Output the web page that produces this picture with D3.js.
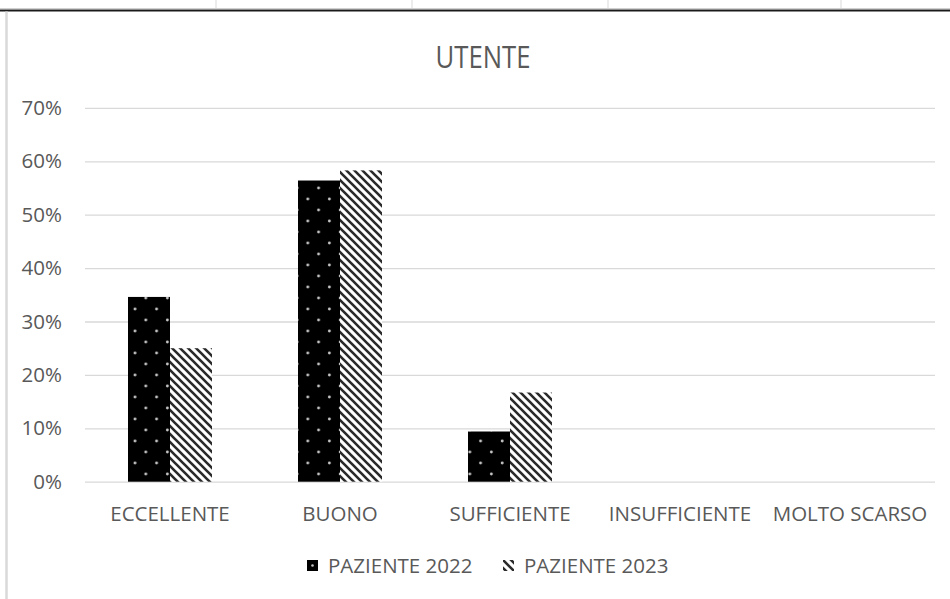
<!DOCTYPE html>
<html>
<head>
<meta charset="utf-8">
<script src="https://cdn.jsdelivr.net/npm/d3@7"></script>
<style>
  html, body { margin: 0; padding: 0; background: #fff; }
  svg { display: block; }
  text { font-family: "Open Sans", "Liberation Sans", sans-serif; fill: #595959; }
</style>
</head>
<body>
<svg id="chart" width="950" height="599"></svg>
<script>
const categories = ["ECCELLENTE", "BUONO", "SUFFICIENTE", "INSUFFICIENTE", "MOLTO SCARSO"];
const seriesNames = ["PAZIENTE 2022", "PAZIENTE 2023"];
const paziente2022 = [0.346, 0.564, 0.094, 0, 0];
const paziente2023 = [0.250, 0.583, 0.167, 0, 0];
const yTicks = [0, 0.1, 0.2, 0.3, 0.4, 0.5, 0.6, 0.7];
const title = "UTENTE";

const svg = d3.select("#chart");
const W = 950, H = 599;
const FS = 20.5;
svg.append("rect").attr("width", W).attr("height", H).attr("fill", "#fff");

// patterns
const defs = svg.append("defs");
const dots = defs.append("pattern").attr("id", "dots").attr("patternUnits", "userSpaceOnUse")
  .attr("width", 21.6).attr("height", 22).attr("x", 0.2).attr("y", 1);
dots.append("rect").attr("width", 21.6).attr("height", 22).attr("fill", "#000");
dots.append("circle").attr("cx", 5.2).attr("cy", 0).attr("r", 1.45).attr("fill", "#c4c4c4");
dots.append("circle").attr("cx", 5.2).attr("cy", 22).attr("r", 1.45).attr("fill", "#c4c4c4");
dots.append("circle").attr("cx", 16).attr("cy", 11).attr("r", 1.45).attr("fill", "#c4c4c4");

const hatch = defs.append("pattern").attr("id", "hatch").attr("patternUnits", "userSpaceOnUse")
  .attr("width", 8).attr("height", 8);
hatch.append("rect").attr("width", 8).attr("height", 8).attr("fill", "#fff");
hatch.append("path").attr("d", "M-2,-2 L10,10 M-2,6 L2,10 M6,-2 L10,2")
  .attr("stroke", "#2a2a2a").attr("stroke-width", 2.6);

const fills = ["url(#dots)", "url(#hatch)"];

// spreadsheet frame
[216, 412, 608, 841].forEach(x => {
  svg.append("line").attr("x1", x).attr("x2", x).attr("y1", 0).attr("y2", 8)
    .attr("stroke", "#d9d9d9").attr("stroke-width", 1);
});
svg.append("line").attr("x1", 0).attr("x2", W).attr("y1", 8.5).attr("y2", 8.5)
  .attr("stroke", "#d0d0d0").attr("stroke-width", 1);
svg.append("line").attr("x1", 0).attr("x2", W).attr("y1", 10.5).attr("y2", 10.5)
  .attr("stroke", "#1a1a1a").attr("stroke-width", 2);
svg.append("line").attr("x1", 6.5).attr("x2", 6.5).attr("y1", 11.5).attr("y2", H)
  .attr("stroke", "#d9d9d9").attr("stroke-width", 2.5);

// scales
const x = d3.scaleBand().domain(categories).range([85, 935]).padding(0);
const xs = d3.scaleBand().domain(seriesNames).range([43, 127]).padding(0);
const y = d3.scaleLinear().domain([0, 0.7]).range([481.7, 107.9]);

// gridlines
const yAxis = d3.axisLeft(y).tickValues(yTicks).tickFormat(d3.format(".0%"))
  .tickSize(-850).tickPadding(23);
const gy = svg.append("g").attr("transform", "translate(85,0)").call(yAxis);
gy.select(".domain").remove();
gy.selectAll(".tick line").attr("stroke", "#d9d9d9").attr("stroke-width", 1.3);
gy.selectAll(".tick text").attr("font-size", FS).attr("fill", "#595959")
  .style("font-family", "'Open Sans', sans-serif");

// bars
const series = [paziente2022, paziente2023];
seriesNames.forEach((name, si) => {
  svg.append("g").selectAll("rect").data(categories.map((c, i) => ({c, v: series[si][i]})))
    .enter().filter(d => d.v > 0).append("rect")
    .attr("x", d => x(d.c) + xs(name))
    .attr("width", xs.bandwidth())
    .attr("y", d => y(d.v))
    .attr("height", d => y(0) - y(d.v))
    .attr("fill", fills[si]);
});

// x axis labels
const xAxis = d3.axisBottom(x).tickSize(0).tickPadding(25);
const gx = svg.append("g").attr("transform", "translate(0,481.7)").call(xAxis);
gx.select(".domain").remove();
gx.selectAll(".tick text").attr("font-size", FS).attr("fill", "#595959")
  .style("font-family", "'Open Sans', sans-serif");

// title
svg.append("text").attr("x", 483).attr("y", 68).attr("text-anchor", "middle")
  .attr("font-size", 31).attr("textLength", 95).attr("lengthAdjust", "spacingAndGlyphs")
  .text(title);

// legend
const legendX = [307, 503];
seriesNames.forEach((name, i) => {
  const g = svg.append("g").attr("transform", `translate(${legendX[i]},560)`);
  if (i === 0) {
    g.append("rect").attr("width", 11).attr("height", 11).attr("fill", "#000");
    g.append("circle").attr("cx", 5.5).attr("cy", 5.5).attr("r", 1.3).attr("fill", "#c4c4c4");
  } else {
    g.append("rect").attr("width", 11).attr("height", 11).attr("fill", fills[i]);
  }
  g.append("text").attr("x", 21).attr("y", 12.5).attr("font-size", FS).text(name);
});
</script>
</body>
</html>
